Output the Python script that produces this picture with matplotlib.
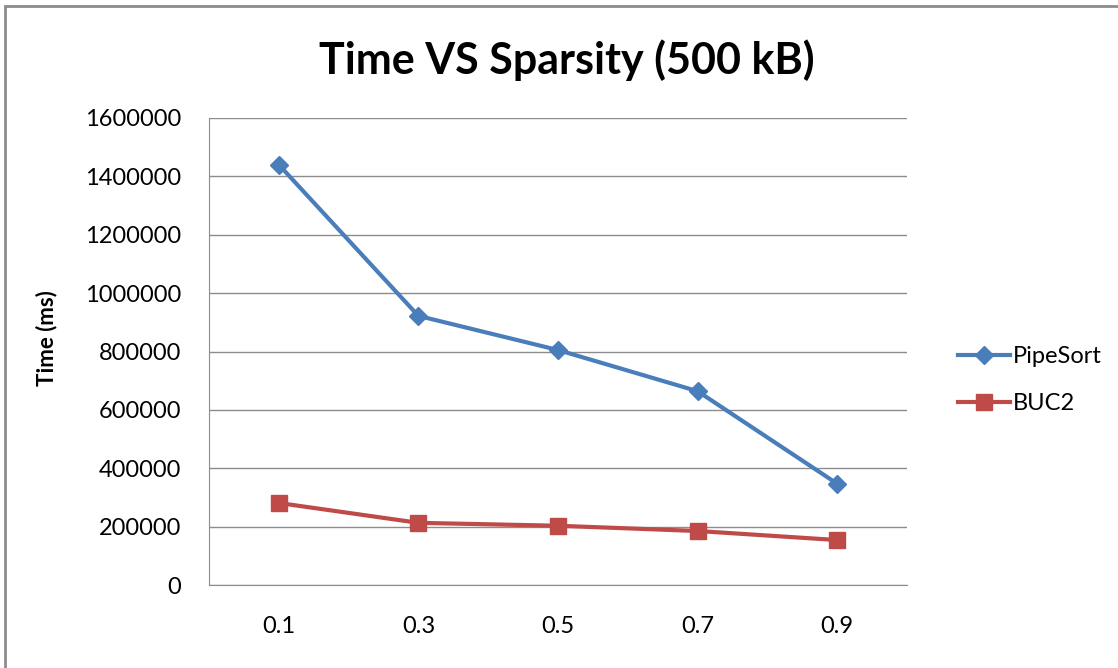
import matplotlib
matplotlib.use('Agg')
import matplotlib.pyplot as plt
from matplotlib.patches import Rectangle

sparsity = ['0.1', '0.3', '0.5', '0.7', '0.9']
pipesort = [1440000, 922000, 805000, 664000, 347000]
buc2 = [281000, 213000, 203000, 185000, 154000]
yticks = [0, 200000, 400000, 600000, 800000, 1000000, 1200000, 1400000, 1600000]

plt.rcParams['font.family'] = ['Lato', 'DejaVu Sans']

fig = plt.figure(figsize=(11.18, 6.68), dpi=100)
ax = fig.add_axes([209 / 1118, 83 / 668, 698 / 1118, 467 / 668])

# outer chart border (gray frame, cut at right/bottom like the screenshot)
fig.patches.append(Rectangle((5 / 1118, -0.05), 1.2, 662 / 668 + 0.05,
                             transform=fig.transFigure, fill=False,
                             edgecolor='#8c8c8c', linewidth=2))

x = range(len(sparsity))
ax.plot(x, pipesort, color='#4A7EBB', linewidth=3, marker='D', markersize=9,
        label='PipeSort')
ax.plot(x, buc2, color='#BE4B48', linewidth=3, marker='s', markersize=12,
        label='BUC2')

ax.set_xlim(-0.5, 4.5)
ax.set_ylim(0, 1600000)
ax.set_xticks(list(x))
ax.set_xticklabels(sparsity)
ax.set_yticks(yticks)
ax.set_yticklabels([str(v) for v in yticks])
ax.yaxis.grid(True, color='#8c8c8c', linewidth=1)
ax.set_axisbelow(True)
ax.tick_params(axis='both', length=0, labelsize=17, colors='#000000')
ax.tick_params(axis='x', pad=22)
ax.tick_params(axis='y', pad=20)
for side in ['top', 'right']:
    ax.spines[side].set_visible(False)
ax.spines['left'].set_color('#8c8c8c')
ax.spines['bottom'].set_color('#8c8c8c')

ax.set_ylabel('Time (ms)', fontsize=16, fontweight='bold')
ax.yaxis.set_label_coords((57 - 209) / 698, (585 - 338) / 467)
fig.text(567 / 1118, 1 - 60 / 668, 'Time VS Sparsity (500 kB)', fontsize=31,
         fontweight='bold', ha='center', va='center')

fig.legend(loc='center left', bbox_to_anchor=(937 / 1118, 1 - 380 / 668),
           frameon=False, fontsize=17, handlelength=2.2, labelspacing=1.1,
           handletextpad=0.1)

fig.savefig('out.png', dpi=100)
